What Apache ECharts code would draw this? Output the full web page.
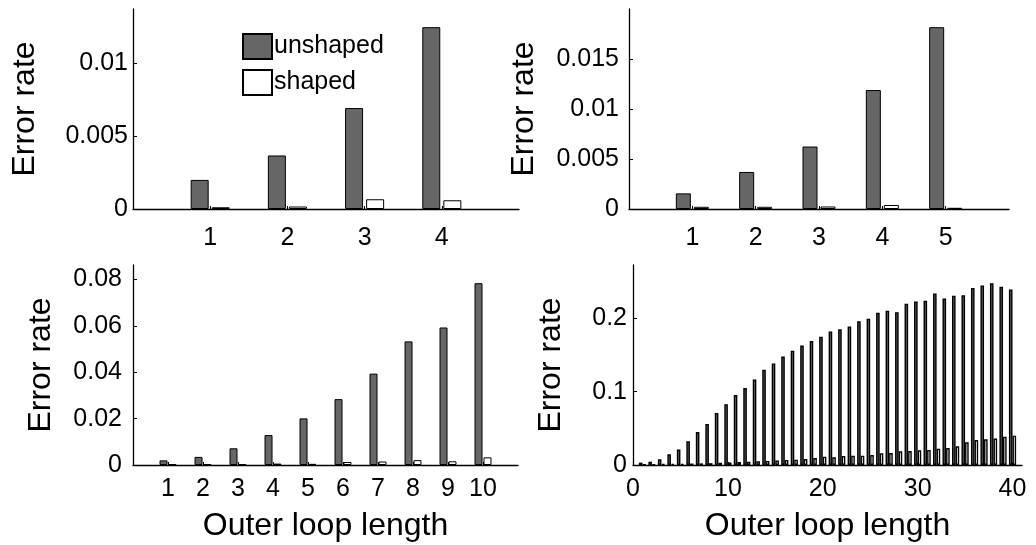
<!DOCTYPE html>
<html>
<head>
<meta charset="utf-8">
<script src="https://cdn.jsdelivr.net/npm/echarts@6/dist/echarts.min.js"></script>
<style>
  html, body { margin: 0; padding: 0; background: #fff; }
  #chart { width: 1036px; height: 545px; }
</style>
</head>
<body>
<div id="chart"></div>
<script>
// Error rate against outer loop length, unshaped vs shaped, four experiment sizes.

// Panel A: loop lengths 1..4
const lengthsA = [1, 2, 3, 4];
const unshapedA = [0.002, 0.00368, 0.00694, 0.0125];
const shapedA = [0.00012, 0.00017, 0.00067, 0.0006];
const yTicksA = [0, 0.005, 0.01];

// Panel B: loop lengths 1..5
const lengthsB = [1, 2, 3, 4, 5];
const unshapedB = [0.00156, 0.0037, 0.00624, 0.01188, 0.01816];
const shapedB = [0.00022, 0.00022, 0.00025, 0.0004, 0.00012];
const yTicksB = [0, 0.005, 0.01, 0.015];

// Panel C: loop lengths 1..10
const lengthsC = [1, 2, 3, 4, 5, 6, 7, 8, 9, 10];
const unshapedC = [0.002, 0.0035, 0.0072, 0.0129, 0.0201, 0.0284, 0.0394, 0.0533, 0.0593, 0.0784];
const shapedC = [0.0003, 0.0003, 0.0003, 0.0006, 0.0005, 0.0013, 0.0015, 0.0021, 0.0016, 0.0033];
const yTicksC = [0, 0.02, 0.04, 0.06, 0.08];

// Panel D: loop lengths 1..40
const lengthsD = Array.from({ length: 40 }, (_, i) => i + 1);
const unshapedD = [0.0032, 0.0045, 0.008, 0.0145, 0.021, 0.0325, 0.045, 0.056, 0.071, 0.083,
                   0.0955, 0.105, 0.1165, 0.130, 0.1385, 0.148, 0.156, 0.163, 0.169, 0.175,
                   0.182, 0.185, 0.189, 0.196, 0.1995, 0.2075, 0.2105, 0.2085, 0.220, 0.223,
                   0.224, 0.234, 0.227, 0.231, 0.2315, 0.2415, 0.245, 0.248, 0.243, 0.2395];
const shapedD = [0.0008, 0.001, 0.0012, 0.0015, 0.0015, 0.002, 0.0022, 0.0025, 0.003, 0.0035,
                 0.004, 0.0045, 0.005, 0.0055, 0.006, 0.0068, 0.0072, 0.0082, 0.0095, 0.0114,
                 0.0105, 0.0123, 0.0127, 0.0127, 0.0136, 0.016, 0.0164, 0.0186, 0.019, 0.020,
                 0.0205, 0.0223, 0.0232, 0.0255, 0.031, 0.034, 0.035, 0.036, 0.0386, 0.040];
const xTicksD = [0, 10, 20, 30, 40];
const yTicksD = [0, 0.1, 0.2];

const FONT = '"Liberation Sans", Arial, Helvetica, sans-serif';
const UNSHAPED_FILL = '#666666';
const SHAPED_FILL = '#ffffff';

const pairs = (xs, ys) => xs.map((x, i) => [x, ys[i]]);
const topOf = ys => Math.max(...ys) * 1.1;

const grids = [
  { left: 133, top: 9, width: 386, height: 200 },
  { left: 629, top: 9, width: 380, height: 200 },
  { left: 133, top: 265, width: 385, height: 200 },
  { left: 633, top: 265, width: 389, height: 200 }
];

function xAxisFor(idx, max, ticks, labelMargin, withName) {
  return {
    type: 'value', gridIndex: idx, min: 0, max: max,
    axisLine: { show: true, onZero: false, lineStyle: { color: '#000', width: 1.3 } },
    axisTick: { show: true, inside: true, length: 3, customValues: ticks, lineStyle: { color: '#000' } },
    axisLabel: { customValues: ticks, margin: labelMargin, fontSize: 25, color: '#000', fontFamily: FONT },
    splitLine: { show: false },
    name: withName ? 'Outer loop length' : '',
    nameLocation: 'middle', nameGap: 45,
    nameTextStyle: { fontSize: 32, color: '#000', fontFamily: FONT }
  };
}

function yAxisFor(idx, max, ticks, labelMargin, nameGap) {
  return {
    type: 'value', gridIndex: idx, min: 0, max: max,
    axisLine: { show: true, lineStyle: { color: '#000', width: 1.3 } },
    axisTick: { show: true, inside: true, length: 4, customValues: ticks, lineStyle: { color: '#000' } },
    axisLabel: { customValues: ticks, margin: labelMargin, fontSize: 25, color: '#000', fontFamily: FONT },
    splitLine: { show: false },
    name: 'Error rate', nameLocation: 'middle', nameRotate: 90, nameGap: nameGap,
    nameTextStyle: { fontSize: 32, color: '#000', fontFamily: FONT }
  };
}

function barPair(idx, xs, unshaped, shaped, width, gap, border) {
  const common = {
    type: 'bar', xAxisIndex: idx, yAxisIndex: idx,
    barWidth: width, barGap: gap, silent: true
  };
  return [
    Object.assign({}, common, {
      name: 'unshaped', data: pairs(xs, unshaped),
      itemStyle: { color: UNSHAPED_FILL, borderColor: '#000', borderWidth: border }
    }),
    Object.assign({}, common, {
      name: 'shaped', data: pairs(xs, shaped),
      itemStyle: { color: SHAPED_FILL, borderColor: '#000', borderWidth: border }
    })
  ];
}

const option = {
  animation: false,
  backgroundColor: '#fff',
  textStyle: { fontFamily: FONT },
  grid: grids,
  legend: {
    orient: 'vertical', left: 242, top: 33, padding: 0,
    itemWidth: 29, itemHeight: 25, itemGap: 9,
    icon: 'rect',
    data: ['unshaped', 'shaped'],
    textStyle: { fontSize: 25, color: '#000', fontFamily: FONT, padding: [0, 0, 0, -3] }
  },
  xAxis: [
    xAxisFor(0, 5, lengthsA, 17, false),
    xAxisFor(1, 6, lengthsB, 17, false),
    xAxisFor(2, 11, lengthsC, 12, true),
    xAxisFor(3, 41, xTicksD, 12, true)
  ],
  yAxis: [
    yAxisFor(0, topOf(unshapedA), yTicksA, 5, 92),
    yAxisFor(1, topOf(unshapedB), yTicksB, 10, 89),
    yAxisFor(2, topOf(unshapedC), yTicksC, 11, 76),
    yAxisFor(3, topOf(unshapedD), yTicksD, 6, 66)
  ],
  series: [].concat(
    barPair(0, lengthsA, unshapedA, shapedA, 18, '17%', 1),
    barPair(1, lengthsB, unshapedB, shapedB, 15, '20%', 1),
    barPair(2, lengthsC, unshapedC, shapedC, 8, '12%', 1),
    barPair(3, lengthsD, unshapedD, shapedD, 3.6, '0%', 1.4)
  )
};

const chart = echarts.init(document.getElementById('chart'), null, { renderer: 'canvas' });
chart.setOption(option);
</script>
</body>
</html>
